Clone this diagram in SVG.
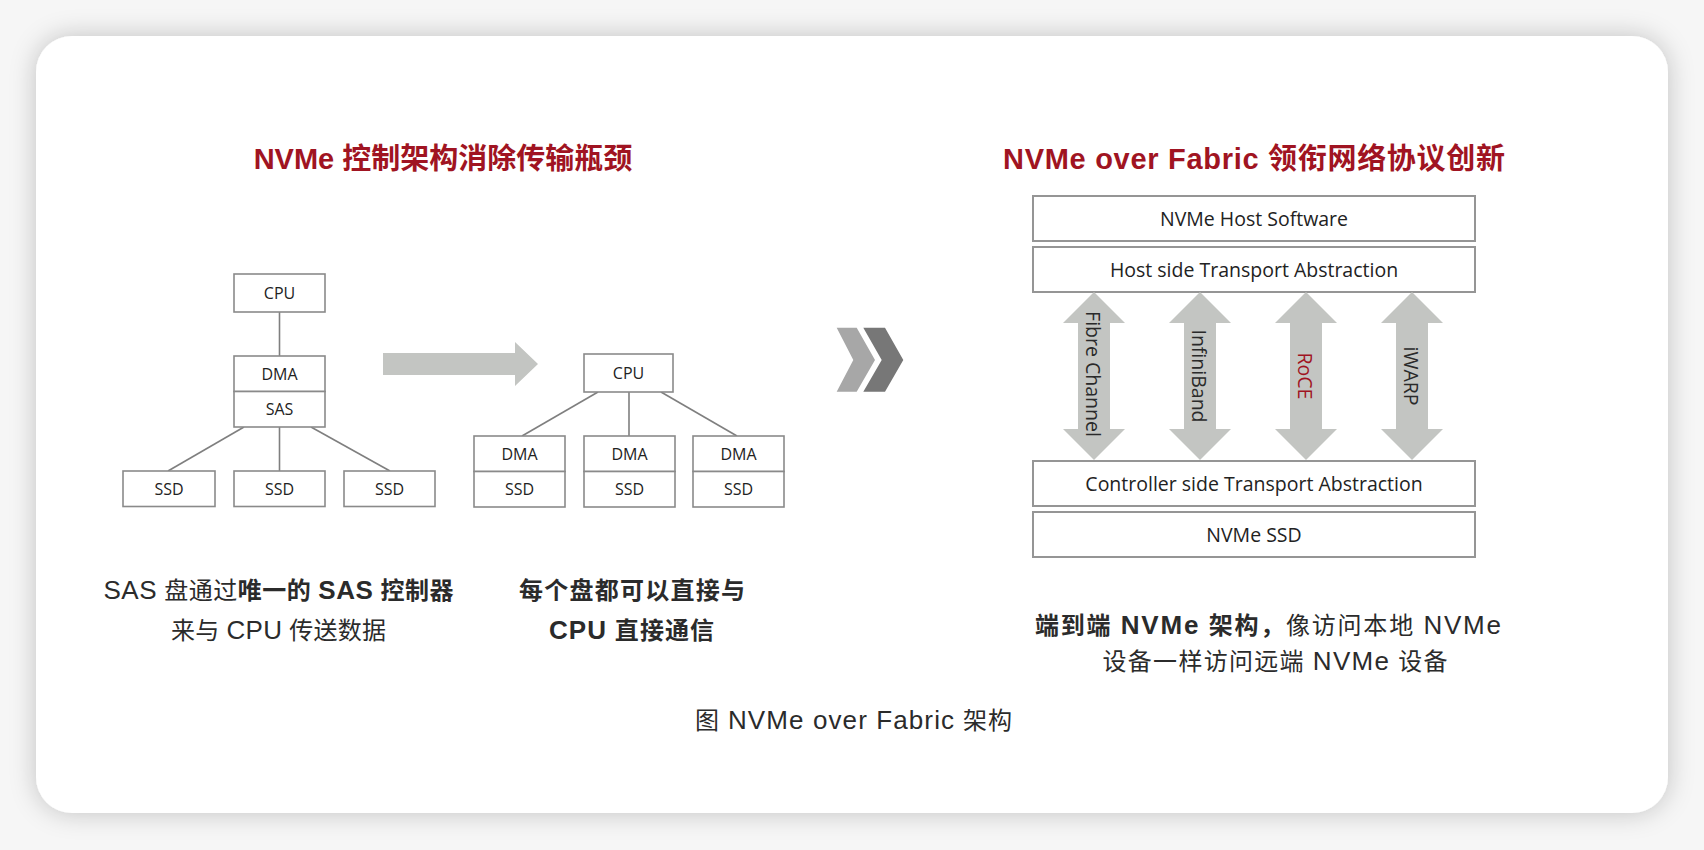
<svg xmlns="http://www.w3.org/2000/svg" width="1704" height="850" viewBox="0 0 1704 850">
<defs>
<filter id="shadow" x="-5%" y="-8%" width="110%" height="116%">
<feDropShadow dx="0" dy="0" stdDeviation="13" flood-color="#000" flood-opacity="0.22"/>
</filter>
<style>
.box{fill:#fff;stroke:#8a8a8a;stroke-width:1.6}
.lbox{fill:#fff;stroke:#959595;stroke-width:2}
.sm{font-family:"Open Sans","Liberation Sans",sans-serif;font-size:16px;fill:#222;text-anchor:middle}
.lg{font-family:"Open Sans","Liberation Sans",sans-serif;font-size:19.5px;fill:#222;text-anchor:middle}
.vt{font-family:"Open Sans","Liberation Sans",sans-serif;font-size:19.5px;fill:#2a2a2a;text-anchor:middle;dominant-baseline:central}
.title{font-family:"Liberation Sans","Noto Sans CJK SC",sans-serif;font-size:29px;font-weight:bold;fill:#a01422;text-anchor:middle}
.body{font-family:"Liberation Sans","Noto Sans CJK SC",sans-serif;font-size:24px;fill:#2b2b2b;text-anchor:middle}
.b{font-weight:bold}
.lat{font-size:26px}
.conn{stroke:#7f7f7f;stroke-width:1.6;fill:none}
.garrow{fill:#c3c5c2}
</style>
</defs>
<rect x="0" y="0" width="1704" height="850" fill="#f6f6f6"/>
<rect x="36" y="36" width="1632" height="777" rx="36" fill="#fff" filter="url(#shadow)"/>

<text class="title" x="443" y="169">NVMe 控制架构消除传输瓶颈</text>
<text class="title" x="1254" y="169" textLength="502">NVMe over Fabric 领衔网络协议创新</text>

<g id="connectors">
<line class="conn" x1="279.5" y1="312" x2="279.5" y2="356"/>
<line class="conn" x1="244" y1="427" x2="168" y2="471"/>
<line class="conn" x1="279.5" y1="427" x2="279.5" y2="471"/>
<line class="conn" x1="311" y1="427" x2="390" y2="471"/>
<line class="conn" x1="598" y1="392" x2="522" y2="436"/>
<line class="conn" x1="629" y1="392" x2="629" y2="436"/>
<line class="conn" x1="661" y1="392" x2="737" y2="436"/>
</g>

<g id="left-cpu"><rect class="box" x="234" y="274" width="91" height="38"/><text class="sm" x="279.5" y="298.5">CPU</text></g>
<g id="left-dma"><rect class="box" x="234" y="356" width="91" height="35.5"/><text class="sm" x="279.5" y="379.5">DMA</text></g>
<g id="left-sas"><rect class="box" x="234" y="391.5" width="91" height="35.5"/><text class="sm" x="279.5" y="415">SAS</text></g>
<g id="left-ssd1"><rect class="box" x="123" y="471" width="92" height="35.5"/><text class="sm" x="169" y="494.5">SSD</text></g>
<g id="left-ssd2"><rect class="box" x="234" y="471" width="91" height="35.5"/><text class="sm" x="279.5" y="494.5">SSD</text></g>
<g id="left-ssd3"><rect class="box" x="344" y="471" width="91" height="35.5"/><text class="sm" x="389.5" y="494.5">SSD</text></g>

<g id="big-arrow"><polygon class="garrow" points="383,353 515,353 515,342 538,364 515,386 515,375 383,375"/></g>

<g id="right-cpu"><rect class="box" x="584" y="354" width="89" height="38"/><text class="sm" x="628.5" y="378.5">CPU</text></g>
<g id="stack1"><rect class="box" x="474" y="436" width="91" height="35.5"/><text class="sm" x="519.5" y="459.5">DMA</text><rect class="box" x="474" y="471.5" width="91" height="35.5"/><text class="sm" x="519.5" y="495">SSD</text></g>
<g id="stack2"><rect class="box" x="584" y="436" width="91" height="35.5"/><text class="sm" x="629.5" y="459.5">DMA</text><rect class="box" x="584" y="471.5" width="91" height="35.5"/><text class="sm" x="629.5" y="495">SSD</text></g>
<g id="stack3"><rect class="box" x="693" y="436" width="91" height="35.5"/><text class="sm" x="738.5" y="459.5">DMA</text><rect class="box" x="693" y="471.5" width="91" height="35.5"/><text class="sm" x="738.5" y="495">SSD</text></g>

<g id="chevrons">
<polygon fill="#a7a7a7" points="836.7,327.7 856.7,327.7 875,360 856.7,391.7 836.7,391.7 853.3,360"/>
<polygon fill="#777777" points="863.3,327.7 885,327.7 903.3,360 885,391.7 863.3,391.7 881.7,360"/>
</g>

<g id="host-software"><rect class="lbox" x="1033" y="196" width="442" height="45"/><text class="lg" x="1254" y="225.5">NVMe Host Software</text></g>
<g id="host-transport"><rect class="lbox" x="1033" y="247" width="442" height="45"/><text class="lg" x="1254" y="276.5">Host side Transport Abstraction</text></g>

<g id="fibre-channel"><polygon class="garrow" points="1094,292 1125,323 1110,323 1110,429 1125,429 1094,460 1063,429 1078,429 1078,323 1063,323"/><text class="vt" transform="translate(1093,374) rotate(90)">Fibre Channel</text></g>
<g id="infiniband"><polygon class="garrow" points="1200,292 1231,323 1216,323 1216,429 1231,429 1200,460 1169,429 1184,429 1184,323 1169,323"/><text class="vt" transform="translate(1199,376) rotate(90)">InfiniBand</text></g>
<g id="roce"><polygon class="garrow" points="1306,292 1337,323 1322,323 1322,429 1337,429 1306,460 1275,429 1290,429 1290,323 1275,323"/><text class="vt" transform="translate(1305,376) rotate(90)" style="fill:#a01422">RoCE</text></g>
<g id="iwarp"><polygon class="garrow" points="1412,292 1443,323 1428,323 1428,429 1443,429 1412,460 1381,429 1396,429 1396,323 1381,323"/><text class="vt" transform="translate(1411,376) rotate(90)">iWARP</text></g>

<g id="controller-transport"><rect class="lbox" x="1033" y="461" width="442" height="45"/><text class="lg" x="1254" y="490.5">Controller side Transport Abstraction</text></g>
<g id="nvme-ssd"><rect class="lbox" x="1033" y="512" width="442" height="45"/><text class="lg" x="1254" y="541.5">NVMe SSD</text></g>

<text class="body" x="278.5" y="599" textLength="350"><tspan class="lat">SAS</tspan> 盘通过<tspan class="b">唯一的 <tspan class="lat">SAS</tspan> 控制器</tspan></text>
<text class="body" x="278.5" y="639" textLength="215">来与 <tspan class="lat">CPU</tspan> 传送数据</text>
<text class="body b" x="632" y="599" textLength="226">每个盘都可以直接与</text>
<text class="body b" x="631.5" y="639" textLength="165"><tspan class="lat">CPU</tspan> 直接通信</text>
<text class="body" x="1268" y="634" textLength="466"><tspan class="b">端到端 <tspan class="lat">NVMe</tspan> 架构，</tspan>像访问本地 <tspan class="lat">NVMe</tspan></text>
<text class="body" x="1275" y="670" textLength="345">设备一样访问远端 <tspan class="lat">NVMe</tspan> 设备</text>
<text class="body" x="853.5" y="729" textLength="317">图 <tspan class="lat">NVMe over Fabric</tspan> 架构</text>
</svg>
